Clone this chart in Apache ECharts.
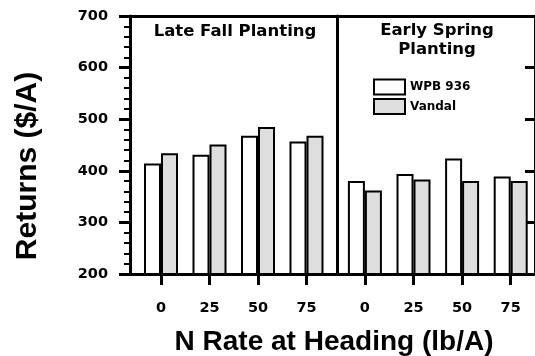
<!DOCTYPE html>
<html>
<head>
<meta charset="utf-8">
<script src="https://cdn.jsdelivr.net/npm/echarts@6/dist/echarts.min.js"></script>
<style>
html,body{margin:0;padding:0;background:#fff;}
#chart{width:535px;height:356px;}
</style>
</head>
<body>
<div id="chart"></div>
<script>
const categories = ['0', '25', '50', '75'];
const seriesNames = ['WPB 936', 'Vandal'];
const fallWPB = [414, 431, 468, 457];
const fallVandal = [434, 451, 485, 468];
const springWPB = [380, 394, 424, 389];
const springVandal = [362, 383, 380, 380];
const yMin = 200, yMax = 700, yInterval = 100;
const panelTitles = ['Late Fall Planting', 'Early Spring\nPlanting'];
const xTitle = 'N Rate at Heading (lb/A)';
const yTitle = 'Returns ($/A)';

const BLACK = '#000';
const GRAY = '#dedede';
const smallFont = {fontFamily: 'DejaVu Sans', fontWeight: 'bold', fontSize: 14.5, color: BLACK};
const lineW = 3;

function hiddenY(grid) {
  return {gridIndex: grid, type: 'value', min: yMin, max: yMax, interval: yInterval, show: false};
}
function catX(grid) {
  return {
    gridIndex: grid, type: 'category', data: categories, position: 'bottom',
    axisLine: {show: true, onZero: false, lineStyle: {color: BLACK, width: lineW}},
    axisTick: {show: true, alignWithLabel: true, length: 11, lineStyle: {color: BLACK, width: lineW}},
    axisLabel: Object.assign({margin: 27}, smallFont),
    splitLine: {show: false}
  };
}
function frameX(pos) {
  return {
    gridIndex: 0, type: 'value', min: 0, max: 1, position: pos,
    axisLine: {show: true, onZero: false, lineStyle: {color: BLACK, width: lineW}},
    axisTick: {show: false}, axisLabel: {show: false}, splitLine: {show: false}
  };
}
function barSeries(name, xi, yi, data, color) {
  return {
    type: 'bar', name: name, xAxisIndex: xi, yAxisIndex: yi, data: data,
    barWidth: 17, barGap: '0%',
    itemStyle: {color: color, borderColor: BLACK, borderWidth: 2}
  };
}

const chart = echarts.init(document.getElementById('chart'), null, {renderer: 'canvas'});
chart.setOption({
  animation: false,
  backgroundColor: '#fff',
  grid: [
    {left: 130, top: 16, width: 411, height: 258},
    {left: 136.75, top: 16, width: 194, height: 258},
    {left: 340.6, top: 16, width: 194.8, height: 258}
  ],
  xAxis: [frameX('bottom'), frameX('top'), catX(1), catX(2)],
  yAxis: [
    {
      gridIndex: 0, type: 'value', min: yMin, max: yMax, interval: yInterval, position: 'left',
      axisLine: {show: true, onZero: false, lineStyle: {color: BLACK, width: lineW}},
      axisTick: {show: true, length: 11, lineStyle: {color: BLACK, width: lineW}},
      minorTick: {show: true, splitNumber: 5, length: 6, lineStyle: {color: BLACK, width: 2}},
      axisLabel: Object.assign({margin: 22}, smallFont),
      splitLine: {show: false}
    },
    {
      gridIndex: 0, type: 'value', min: yMin, max: yMax, interval: yInterval, position: 'right',
      axisLine: {show: true, onZero: false, lineStyle: {color: BLACK, width: lineW}},
      axisTick: {show: true, inside: true, length: 10, lineStyle: {color: BLACK, width: lineW}},
      axisLabel: {show: false}, splitLine: {show: false}
    },
    hiddenY(1),
    {
      gridIndex: 1, type: 'value', min: yMin, max: yMax, interval: yInterval, position: 'right', offset: 6.5,
      axisLine: {show: true, onZero: false, lineStyle: {color: BLACK, width: lineW}},
      axisTick: {show: false}, axisLabel: {show: false}, splitLine: {show: false}
    },
    hiddenY(2)
  ],
  legend: {
    data: seriesNames, left: 373, top: 78.5, orient: 'vertical', padding: 0,
    icon: 'rect', itemWidth: 31, itemHeight: 15, itemGap: 2.5,
    itemStyle: {borderColor: BLACK, borderWidth: 2},
    textStyle: {fontFamily: 'DejaVu Sans', fontWeight: 'bold', fontSize: 12, color: BLACK, padding: [3, 0, 0, 0]}
  },
  series: [
    barSeries(seriesNames[0], 2, 2, fallWPB, '#fff'),
    barSeries(seriesNames[1], 2, 2, fallVandal, GRAY),
    barSeries(seriesNames[0], 3, 4, springWPB, '#fff'),
    barSeries(seriesNames[1], 3, 4, springVandal, GRAY)
  ],
  graphic: [
    {type: 'text', x: 235, y: 32, style: {text: panelTitles[0], align: 'center', verticalAlign: 'middle', font: 'bold 16.5px "DejaVu Sans"', fill: BLACK}},
    {type: 'text', x: 437, y: 40.5, style: {text: panelTitles[1], align: 'center', verticalAlign: 'middle', font: 'bold 16.5px "DejaVu Sans"', lineHeight: 19, fill: BLACK}},
    {type: 'text', x: 334, y: 342, style: {text: xTitle, align: 'center', verticalAlign: 'middle', font: 'bold 28px "Liberation Sans"', fill: BLACK}},
    {type: 'text', x: 28, y: 166, rotation: Math.PI / 2, style: {text: yTitle, align: 'center', verticalAlign: 'middle', font: 'bold 30px "Liberation Sans"', fill: BLACK}}
  ]
});
</script>
</body>
</html>
